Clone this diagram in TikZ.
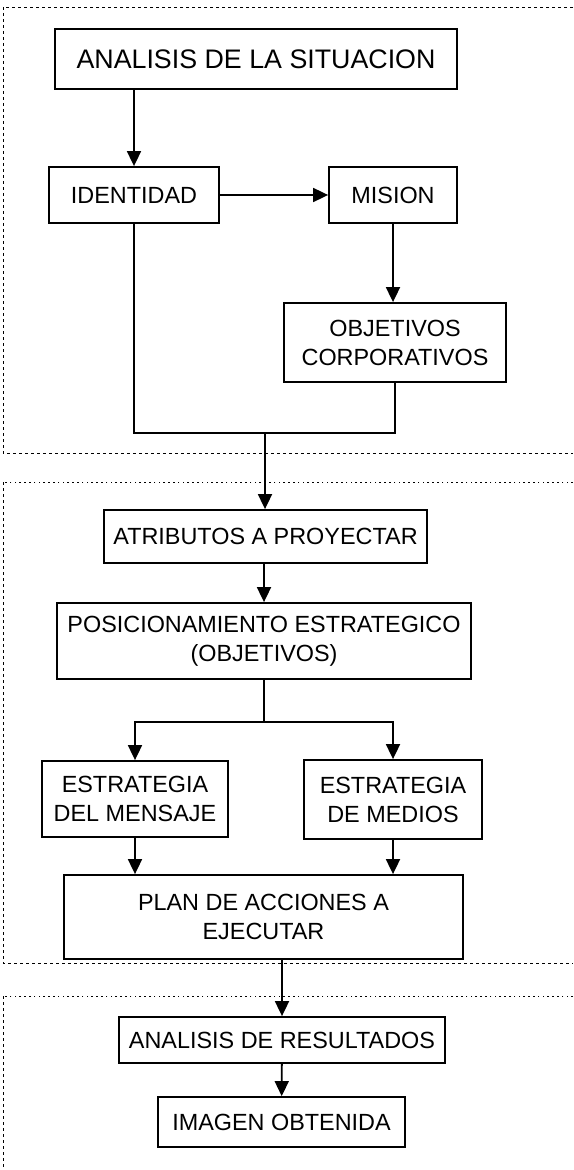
\documentclass[tikz,border=0pt]{standalone}
\usepackage{fontspec}
\setmainfont{Liberation Sans}
\usetikzlibrary{arrows.meta}

\begin{document}
\begin{tikzpicture}[x=0.5pt, y=-0.5pt,
        box/.style={draw, line width=0.9pt, inner sep=0pt, align=center,
            font=\fontsize{11.7}{14.5}\selectfont},
        linea/.style={line width=0.9pt},
        arr/.style={linea, -{Triangle[length=7.5pt,width=7pt]}},
        zona/.style={line width=0.4pt, dash pattern=on 1.5pt off 1.5pt},
        zonatop/.style={line width=0.4pt, dash pattern=on 0.8pt off 1.6pt}]
        % Dimensioni foglio
        \useasboundingbox (0,0) rectangle (573,1170);

        % Zone tratteggiate
        % Zona 1 (analisi)
        \draw[zona] (573,7) -- (3,7) -- (3,453) -- (573,453);
        % Zona 2 (strategia)
        \draw[zonatop] (573,482) -- (3,482);
        \draw[zona] (3,482) -- (3,963) -- (573,963);
        % Zona 3 (risultati)
        \draw[zonatop] (573,996) -- (3,996);
        \draw[zona] (3,996) -- (3,1170);

        % Riquadri
        \node[box, minimum width=201pt, minimum height=30pt,
            font=\fontsize{13.4}{16}\selectfont] (sit) at (256,59) {ANALISIS DE LA SITUACION};
        \node[box, minimum width=85pt, minimum height=28pt] (iden) at (134,195) {IDENTIDAD};
        \node[box, minimum width=64pt, minimum height=28pt] (mision) at (393,195) {MISION};
        \node[box, minimum width=111pt, minimum height=39.5pt] (obj) at (395,342.5) {OBJETIVOS\\CORPORATIVOS};
        \node[box, minimum width=161.5pt, minimum height=26.5pt] (atrib) at (265.5,536.5) {ATRIBUTOS A PROYECTAR};
        \node[box, minimum width=207pt, minimum height=38pt] (pos) at (264,641) {POSICIONAMIENTO ESTRATEGICO\\(OBJETIVOS)};
        \node[box, minimum width=93pt, minimum height=38pt] (mens) at (135,799) {ESTRATEGIA\\DEL MENSAJE};
        \node[box, minimum width=89pt, minimum height=39.5pt] (medios) at (393,799.5) {ESTRATEGIA\\DE MEDIOS};
        \node[box, minimum width=199.5pt, minimum height=42pt] (plan) at (263.5,917) {PLAN DE ACCIONES A\\EJECUTAR};
        \node[box, minimum width=163pt, minimum height=23pt] (res) at (282,1040) {ANALISIS DE RESULTADOS};
        \node[box, minimum width=123.5pt, minimum height=25pt] (img) at (281.5,1122) {IMAGEN OBTENIDA};

        % Punti di raccordo
        \coordinate (join) at (265,433);
        \coordinate (split) at (264,722);

        % Frecce
        \draw[arr] (sit.south -| iden) -- (iden);
        \draw[arr] (iden) -- (mision);
        \draw[arr] (mision) -- (mision |- obj.north);
        \draw[linea] (iden) |- (join) -| (obj);
        \draw[arr] (join) -- (join |- atrib.north);
        \draw[arr] (atrib.south -| pos) -- (pos);
        \draw[linea] (pos) -- (split);
        \draw[arr] (split) -| (mens);
        \draw[arr] (split) -| (medios);
        \draw[arr] (mens) -- (mens |- plan.north);
        \draw[arr] (medios) -- (medios |- plan.north);
        \draw[arr] (plan.south -| res) -- (res);
        \draw[arr] (res) -- (img);

    \end{tikzpicture}
\end{document}
